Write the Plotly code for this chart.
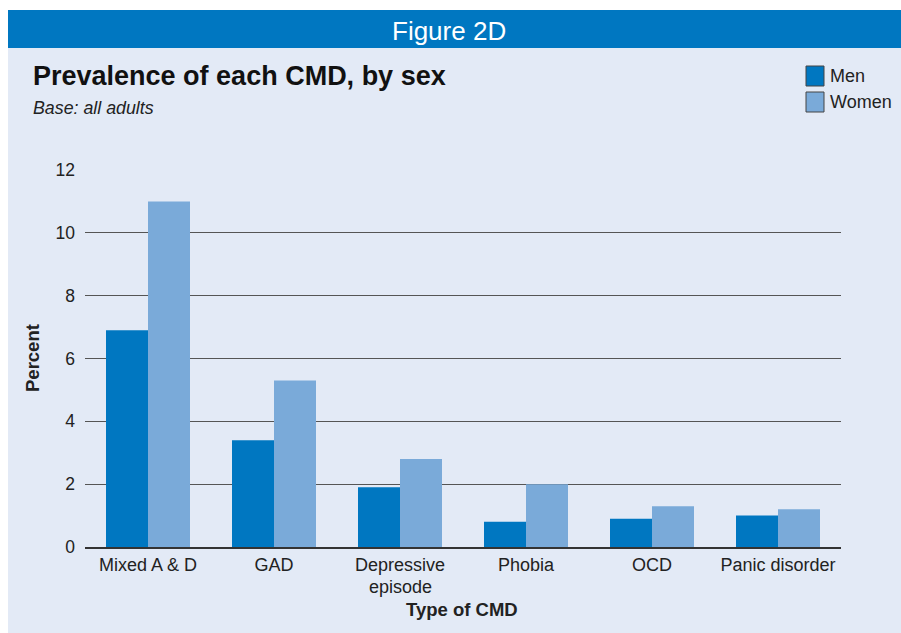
import plotly.graph_objects as go

categories = ["Mixed A & D", "GAD", "Depressive episode", "Phobia", "OCD", "Panic disorder"]
tick_lines = [["Mixed A & D"], ["GAD"], ["Depressive", "episode"], ["Phobia"], ["OCD"], ["Panic disorder"]]
men = [6.9, 3.4, 1.9, 0.8, 0.9, 1.0]
women = [11.0, 5.3, 2.8, 2.0, 1.3, 1.2]
series_names = ["Men", "Women"]
colors = ["#0077c1", "#7aaad9"]
y_ticks = [0, 2, 4, 6, 8, 10, 12]

W, H = 901, 633
L, R, T, B = 85, 60, 170, 86
PW = W - L - R
PH = H - T - B

def px(sx):
    return (sx - L) / PW

def py(sy):
    return (H - B - sy) / PH

FONT = "Liberation Sans"
PANEL = "#e3eaf6"

fig = go.Figure()
for name, vals, c in zip(series_names, [men, women], colors):
    fig.add_trace(go.Bar(x=categories, y=vals, name=name, marker=dict(color=c, line=dict(width=0)),
                         showlegend=False, hoverinfo="skip"))

shapes = [
    dict(type="rect", xref="paper", yref="paper", x0=px(8), x1=px(910), y0=py(650), y1=py(10),
         fillcolor=PANEL, line=dict(width=0), layer="below"),
    dict(type="rect", xref="paper", yref="paper", x0=px(8), x1=px(910), y0=py(48), y1=py(10),
         fillcolor="#0077c1", line=dict(width=0), layer="below"),
]
annotations = [
    dict(text="Figure 2D", xref="paper", yref="paper", x=px(449), y=py(31), showarrow=False,
         font=dict(family=FONT, size=26, color="white"), xanchor="center", yanchor="middle"),
    dict(text="<b>Prevalence of each CMD, by sex</b>", xref="paper", yref="paper", x=px(31), y=py(76),
         showarrow=False, font=dict(family=FONT, size=27, color="#111111"), xanchor="left", yanchor="middle"),
    dict(text="<i>Base: all adults</i>", xref="paper", yref="paper", x=px(31), y=py(108),
         showarrow=False, font=dict(family=FONT, size=17.8, color="#222222"), xanchor="left", yanchor="middle"),
    dict(text="<b>Percent</b>", xref="paper", yref="paper", x=px(32), y=py(358), textangle=-90,
         showarrow=False, font=dict(family=FONT, size=18.5, color="#222222"), xanchor="center", yanchor="middle"),
    dict(text="<b>Type of CMD</b>", xref="paper", yref="paper", x=px(462), y=py(609),
         showarrow=False, font=dict(family=FONT, size=18.5, color="#222222"), xanchor="center", yanchor="middle"),
]
# extra lines of multi-line tick labels
for cat, lines in zip(categories, tick_lines):
    for j, line in enumerate(lines[1:], start=1):
        annotations.append(dict(text=line, xref="x", yref="paper", x=cat, y=py(564 + 23 * j),
                                showarrow=False, font=dict(family=FONT, size=18, color="#222222"),
                                xanchor="center", yanchor="middle"))

for i, (name, c) in enumerate(zip(series_names, colors)):
    yc = 76 + 26 * i
    shapes.append(dict(type="rect", xref="paper", yref="paper", x0=px(806), x1=px(824),
                       y0=py(yc + 10), y1=py(yc - 10), fillcolor=c, line=dict(color="#444444", width=1)))
    annotations.append(dict(text=name, xref="paper", yref="paper", x=px(828), y=py(yc),
                            showarrow=False, font=dict(family=FONT, size=18, color="#222222"),
                            xanchor="left", yanchor="middle"))

fig.update_layout(
    width=W, height=H,
    margin=dict(l=L, r=R, t=T, b=B),
    paper_bgcolor="white", plot_bgcolor=PANEL,
    barmode="group", bargap=1/3, bargroupgap=0,
    shapes=shapes, annotations=annotations,
    font=dict(family=FONT, size=18, color="#222222"),
    xaxis=dict(showgrid=False, showline=True, linecolor="#333333", linewidth=1.5,
               tickmode="array", tickvals=categories, ticktext=[l[0] for l in tick_lines],
               ticks="", tickfont=dict(size=18), ticklabelstandoff=1, fixedrange=True),
    yaxis=dict(range=[0, 12], tickvals=y_ticks, showgrid=True, gridcolor="#555555", gridwidth=1,
               zeroline=False, ticks="", tickfont=dict(size=17.5), ticklabelstandoff=9, fixedrange=True),
)
fig.write_html("out.html", config={"displayModeBar": False},
               post_script="document.body.style.margin='0';document.body.style.overflow='hidden';")
